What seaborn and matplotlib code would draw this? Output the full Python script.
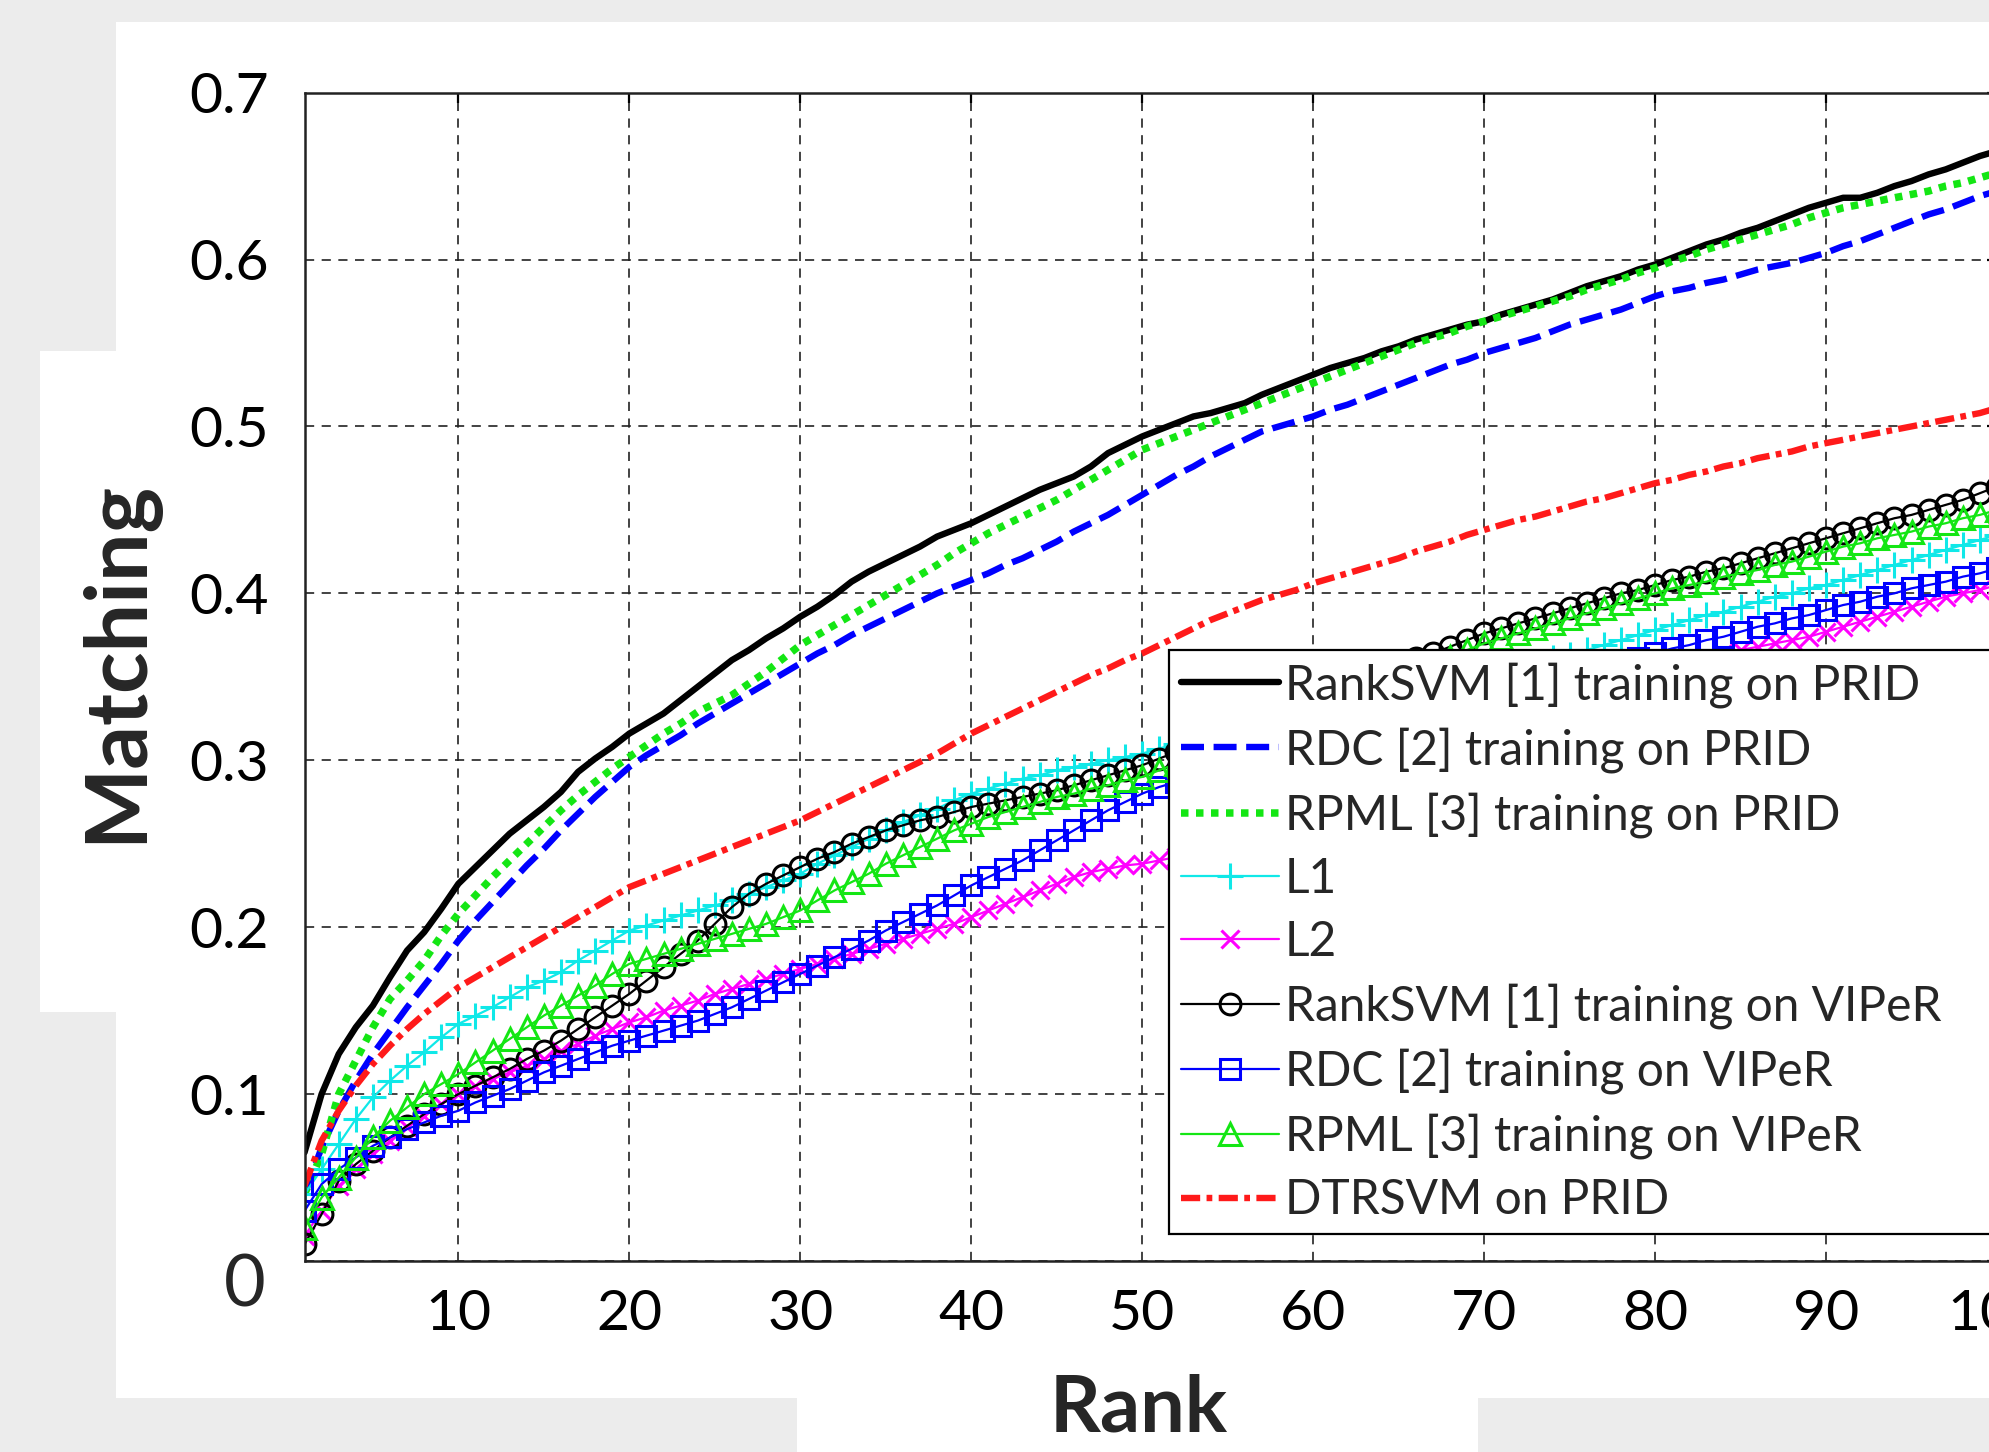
import numpy as np
import pandas as pd
import matplotlib
matplotlib.use("Agg")
import matplotlib.pyplot as plt
from matplotlib.patches import Rectangle
import seaborn as sns

sns.set_style("white")
plt.rcParams['font.family'] = ['Lato', 'DejaVu Sans']

ranks = list(range(1, 101))

ranksvm_prid = [
    0.065, 0.100, 0.124, 0.140, 0.153, 0.170, 0.186, 0.197, 0.211, 0.226,
    0.236, 0.246, 0.256, 0.264, 0.272, 0.281, 0.293, 0.301, 0.308, 0.316,
    0.322, 0.328, 0.336, 0.344, 0.352, 0.360, 0.366, 0.373, 0.379, 0.386,
    0.392, 0.399, 0.407, 0.413, 0.418, 0.423, 0.428, 0.434, 0.438, 0.442,
    0.447, 0.452, 0.457, 0.462, 0.466, 0.470, 0.476, 0.484, 0.489, 0.494,
    0.498, 0.502, 0.506, 0.508, 0.511, 0.514, 0.519, 0.523, 0.527, 0.531,
    0.535, 0.538, 0.541, 0.545, 0.548, 0.552, 0.555, 0.558, 0.561, 0.563,
    0.567, 0.570, 0.573, 0.576, 0.580, 0.584, 0.587, 0.590, 0.594, 0.597,
    0.601, 0.605, 0.609, 0.612, 0.616, 0.619, 0.623, 0.627, 0.631, 0.634,
    0.637, 0.637, 0.640, 0.644, 0.647, 0.651, 0.654, 0.658, 0.662, 0.665]

rdc_prid = [
    0.040, 0.068, 0.090, 0.108, 0.124, 0.138, 0.152, 0.165, 0.178, 0.192,
    0.204, 0.215, 0.226, 0.237, 0.247, 0.258, 0.268, 0.278, 0.287, 0.296,
    0.303, 0.309, 0.315, 0.322, 0.328, 0.334, 0.340, 0.346, 0.352, 0.358,
    0.364, 0.369, 0.375, 0.380, 0.385, 0.390, 0.395, 0.400, 0.404, 0.408,
    0.412, 0.417, 0.421, 0.426, 0.431, 0.437, 0.442, 0.447, 0.453, 0.459,
    0.465, 0.471, 0.476, 0.482, 0.487, 0.492, 0.497, 0.500, 0.503, 0.506,
    0.510, 0.513, 0.517, 0.521, 0.525, 0.529, 0.533, 0.537, 0.540, 0.544,
    0.547, 0.550, 0.553, 0.557, 0.561, 0.564, 0.567, 0.570, 0.574, 0.578,
    0.581, 0.583, 0.586, 0.588, 0.591, 0.594, 0.596, 0.598, 0.601, 0.604,
    0.608, 0.611, 0.615, 0.619, 0.623, 0.627, 0.630, 0.634, 0.638, 0.641]

rpml_prid = [
    0.040, 0.064, 0.100, 0.120, 0.140, 0.157, 0.168, 0.180, 0.195, 0.208,
    0.219, 0.230, 0.240, 0.250, 0.260, 0.270, 0.279, 0.287, 0.295, 0.302,
    0.309, 0.316, 0.322, 0.329, 0.334, 0.339, 0.346, 0.353, 0.361, 0.369,
    0.375, 0.381, 0.387, 0.393, 0.399, 0.405, 0.411, 0.417, 0.424, 0.430,
    0.436, 0.441, 0.446, 0.451, 0.456, 0.462, 0.468, 0.474, 0.480, 0.486,
    0.490, 0.494, 0.498, 0.502, 0.506, 0.510, 0.514, 0.518, 0.522, 0.526,
    0.530, 0.534, 0.538, 0.542, 0.546, 0.550, 0.553, 0.556, 0.560, 0.563,
    0.566, 0.569, 0.572, 0.575, 0.578, 0.582, 0.585, 0.588, 0.592, 0.595,
    0.599, 0.602, 0.606, 0.609, 0.612, 0.615, 0.618, 0.621, 0.625, 0.628,
    0.631, 0.633, 0.635, 0.637, 0.639, 0.641, 0.644, 0.646, 0.649, 0.652]

l1 = [
    0.040, 0.055, 0.070, 0.085, 0.098, 0.108, 0.117, 0.125, 0.134, 0.142,
    0.147, 0.152, 0.158, 0.164, 0.168, 0.173, 0.180, 0.186, 0.192, 0.198,
    0.201, 0.204, 0.207, 0.210, 0.213, 0.216, 0.220, 0.224, 0.228, 0.232,
    0.238, 0.243, 0.248, 0.253, 0.258, 0.263, 0.267, 0.271, 0.276, 0.280,
    0.283, 0.286, 0.289, 0.291, 0.294, 0.296, 0.298, 0.300, 0.302, 0.304,
    0.307, 0.310, 0.312, 0.314, 0.316, 0.318, 0.320, 0.322, 0.324, 0.326,
    0.328, 0.330, 0.332, 0.334, 0.336, 0.339, 0.342, 0.345, 0.348, 0.351,
    0.354, 0.356, 0.358, 0.361, 0.363, 0.366, 0.369, 0.372, 0.375, 0.378,
    0.381, 0.384, 0.387, 0.389, 0.392, 0.395, 0.398, 0.400, 0.403, 0.405,
    0.408, 0.411, 0.414, 0.417, 0.420, 0.423, 0.426, 0.429, 0.432, 0.435]

l2 = [
    0.015, 0.030, 0.045, 0.055, 0.064, 0.072, 0.080, 0.087, 0.094, 0.100,
    0.105, 0.109, 0.113, 0.117, 0.121, 0.126, 0.130, 0.135, 0.139, 0.143,
    0.146, 0.150, 0.153, 0.156, 0.160, 0.163, 0.166, 0.169, 0.172, 0.175,
    0.178, 0.181, 0.184, 0.187, 0.190, 0.193, 0.196, 0.199, 0.202, 0.206,
    0.210, 0.214, 0.218, 0.222, 0.226, 0.230, 0.233, 0.235, 0.237, 0.238,
    0.240, 0.242, 0.245, 0.249, 0.253, 0.257, 0.261, 0.265, 0.269, 0.273,
    0.277, 0.281, 0.285, 0.289, 0.293, 0.297, 0.301, 0.305, 0.309, 0.313,
    0.317, 0.321, 0.325, 0.329, 0.333, 0.337, 0.341, 0.345, 0.349, 0.353,
    0.357, 0.360, 0.362, 0.364, 0.366, 0.368, 0.370, 0.372, 0.374, 0.377,
    0.380, 0.383, 0.386, 0.389, 0.392, 0.395, 0.398, 0.400, 0.402, 0.405]

ranksvm_viper = [
    0.010, 0.028, 0.048, 0.058, 0.066, 0.074, 0.081, 0.088, 0.094, 0.100,
    0.105, 0.110, 0.115, 0.121, 0.126, 0.132, 0.139, 0.146, 0.153, 0.160,
    0.168, 0.176, 0.184, 0.192, 0.202, 0.212, 0.220, 0.226, 0.231, 0.236,
    0.241, 0.245, 0.250, 0.254, 0.258, 0.261, 0.264, 0.266, 0.269, 0.272,
    0.274, 0.276, 0.278, 0.280, 0.282, 0.285, 0.288, 0.291, 0.294, 0.297,
    0.301, 0.305, 0.309, 0.313, 0.317, 0.321, 0.325, 0.329, 0.333, 0.337,
    0.341, 0.345, 0.349, 0.353, 0.357, 0.361, 0.364, 0.368, 0.372, 0.376,
    0.379, 0.382, 0.385, 0.388, 0.391, 0.394, 0.397, 0.400, 0.402, 0.405,
    0.408, 0.410, 0.413, 0.415, 0.418, 0.421, 0.424, 0.427, 0.430, 0.433,
    0.436, 0.439, 0.442, 0.445, 0.447, 0.450, 0.453, 0.456, 0.460, 0.464]

rdc_viper = [
    0.030, 0.046, 0.055, 0.062, 0.069, 0.074, 0.079, 0.083, 0.087, 0.090,
    0.095, 0.099, 0.103, 0.108, 0.113, 0.117, 0.121, 0.125, 0.129, 0.132,
    0.135, 0.138, 0.141, 0.144, 0.148, 0.152, 0.157, 0.162, 0.167, 0.172,
    0.177, 0.182, 0.187, 0.192, 0.198, 0.203, 0.208, 0.213, 0.219, 0.225,
    0.230, 0.235, 0.240, 0.246, 0.252, 0.258, 0.264, 0.270, 0.275, 0.280,
    0.284, 0.287, 0.290, 0.293, 0.296, 0.299, 0.302, 0.305, 0.308, 0.311,
    0.314, 0.317, 0.320, 0.323, 0.326, 0.329, 0.332, 0.335, 0.338, 0.341,
    0.343, 0.345, 0.347, 0.349, 0.351, 0.353, 0.355, 0.358, 0.361, 0.364,
    0.367, 0.369, 0.372, 0.374, 0.377, 0.380, 0.382, 0.385, 0.387, 0.390,
    0.393, 0.395, 0.398, 0.400, 0.403, 0.405, 0.407, 0.410, 0.412, 0.415]

rpml_viper = [
    0.020, 0.038, 0.050, 0.062, 0.074, 0.084, 0.092, 0.100, 0.106, 0.112,
    0.119, 0.126, 0.133, 0.140, 0.147, 0.153, 0.159, 0.165, 0.172, 0.178,
    0.181, 0.184, 0.187, 0.190, 0.193, 0.196, 0.199, 0.202, 0.206, 0.210,
    0.216, 0.222, 0.227, 0.232, 0.238, 0.243, 0.248, 0.253, 0.258, 0.262,
    0.266, 0.269, 0.272, 0.275, 0.278, 0.280, 0.283, 0.285, 0.288, 0.290,
    0.294, 0.298, 0.302, 0.306, 0.310, 0.314, 0.318, 0.322, 0.326, 0.330,
    0.334, 0.338, 0.342, 0.346, 0.350, 0.354, 0.358, 0.362, 0.366, 0.370,
    0.373, 0.376, 0.379, 0.382, 0.385, 0.388, 0.391, 0.394, 0.397, 0.400,
    0.403, 0.405, 0.407, 0.410, 0.412, 0.414, 0.417, 0.419, 0.422, 0.425,
    0.428, 0.430, 0.433, 0.435, 0.437, 0.440, 0.442, 0.445, 0.447, 0.450]

dtrsvm_prid = [
    0.045, 0.072, 0.090, 0.105, 0.118, 0.129, 0.139, 0.148, 0.156, 0.164,
    0.170, 0.176, 0.182, 0.188, 0.194, 0.200, 0.206, 0.212, 0.218, 0.224,
    0.228, 0.232, 0.236, 0.240, 0.244, 0.248, 0.252, 0.256, 0.260, 0.264,
    0.269, 0.274, 0.279, 0.284, 0.289, 0.294, 0.299, 0.304, 0.310, 0.316,
    0.321, 0.326, 0.331, 0.336, 0.341, 0.346, 0.351, 0.355, 0.360, 0.364,
    0.369, 0.374, 0.379, 0.384, 0.388, 0.392, 0.396, 0.399, 0.402, 0.406,
    0.409, 0.412, 0.415, 0.418, 0.421, 0.425, 0.428, 0.431, 0.435, 0.438,
    0.441, 0.444, 0.446, 0.449, 0.452, 0.455, 0.457, 0.460, 0.463, 0.466,
    0.468, 0.471, 0.473, 0.476, 0.478, 0.481, 0.483, 0.485, 0.488, 0.490,
    0.492, 0.494, 0.496, 0.498, 0.500, 0.502, 0.504, 0.506, 0.508, 0.511]

series_labels = [
    "RankSVM [1] training on PRID",
    "RDC [2] training on PRID",
    "RPML [3] training on PRID",
    "L1",
    "L2",
    "RankSVM [1] training on VIPeR",
    "RDC [2] training on VIPeR",
    "RPML [3] training on VIPeR",
    "DTRSVM on PRID",
]
series_values = [ranksvm_prid, rdc_prid, rpml_prid, l1, l2,
                 ranksvm_viper, rdc_viper, rpml_viper, dtrsvm_prid]

x_ticks = [10, 20, 30, 40, 50, 60, 70, 80, 90, 100]
y_ticks = [0, 0.1, 0.2, 0.3, 0.4, 0.5, 0.6, 0.7]
y_tick_labels = ["", "0.1", "0.2", "0.3", "0.4", "0.5", "0.6", "0.7"]

GREEN = "#14e614"
MK = dict(linestyle="-", linewidth=1.6, markeredgewidth=2.2)
styles = [
    dict(color="black", linestyle="-", linewidth=4.6),
    dict(color="#0000ff", linestyle=(0, (3.6, 1.5)), linewidth=4.6),
    dict(color=GREEN, linestyle=(0, (1.0, 1.0)), linewidth=5.4),
    dict(color="#10e8e8", marker="+", markersize=19, **MK),
    dict(color="#ff00ff", marker="x", markersize=13, **MK),
    dict(color="black", marker="o", markersize=15, markerfacecolor="none", **MK),
    dict(color="#0000ff", marker="s", markersize=14, markerfacecolor="none", **MK),
    dict(color=GREEN, marker="^", markersize=16, markerfacecolor="none", **MK),
    dict(color="#ff1a1a", linestyle=(0, (3.0, 1.0, 0.9, 1.0)), linewidth=4.6),
]

W, H = 1989, 1452
fig = plt.figure(figsize=(W / 100, H / 100), dpi=100, facecolor="#ececec")

def px_rect(x0, y0, x1, y1):
    return Rectangle((x0 / W, 1 - y1 / H), (x1 - x0) / W, (y1 - y0) / H,
                     transform=fig.transFigure, facecolor="white",
                     edgecolor="none", zorder=-10)

for r in [px_rect(116, 22, 1989, 1398), px_rect(40, 351, 116, 1012),
          px_rect(797, 1398, 1478, 1452)]:
    fig.patches.append(r)

ax_l, ax_r, ax_t, ax_b = 304.5, 1997.0, 92.6, 1261.0
ax = fig.add_axes([ax_l / W, 1 - ax_b / H, (ax_r - ax_l) / W, (ax_b - ax_t) / H])
ax.set_facecolor("white")

for lab, vals, st in zip(series_labels, series_values, styles):
    kw = dict(st)
    if "marker" in kw:
        kw["markeredgecolor"] = kw["color"]
    sns.lineplot(x=ranks, y=vals, ax=ax, label=lab, errorbar=None, sort=False, **kw)

ax.set_xlim(1, 100)
ax.set_ylim(0, 0.7)
ax.set_xticks(x_ticks)
ax.set_yticks(y_ticks)
ax.set_yticklabels(y_tick_labels)
ax.grid(True, color="#222222", linestyle=(0, (5.5, 4.5)), linewidth=1.2)
ax.set_axisbelow(True)
ax.tick_params(axis="both", direction="in", length=7, width=1.6, labelsize=41,
               colors="black", top=True, right=True)
ax.tick_params(axis="y", pad=26)
ax.tick_params(axis="x", pad=20)
for side in ["left", "top", "bottom", "right"]:
    ax.spines[side].set_color("#222222")
    ax.spines[side].set_linewidth(1.8)

ax.text(-0.0227, -0.021, "0", transform=ax.transAxes, ha="right", va="center", fontsize=52)

ax.set_xlabel("Rank", fontsize=57, fontweight="bold")
ax.xaxis.set_label_coords(0.493, -0.1275)
ax.xaxis.label.set_va("center")
ax.set_ylabel("Matching", fontsize=62, fontweight="bold")
ax.yaxis.set_label_coords(-0.111, 0.513)
ax.yaxis.label.set_va("center")

leg_x0, leg_top, leg_x1 = 1169, 650, 2030
leg = ax.legend(loc="upper left",
                bbox_to_anchor=(leg_x0 / W, 1 - leg_top / H, (leg_x1 - leg_x0) / W, 0.0001),
                bbox_transform=fig.transFigure, mode="expand", ncol=1,
                fontsize=34.5, frameon=True, fancybox=False, framealpha=1,
                edgecolor="black", borderpad=0.25, labelspacing=0.40,
                handlelength=2.05, handletextpad=0.12, numpoints=1, borderaxespad=0)
leg.get_frame().set_linewidth(1.6)

fig.savefig("out.png", dpi=100, facecolor=fig.get_facecolor())
